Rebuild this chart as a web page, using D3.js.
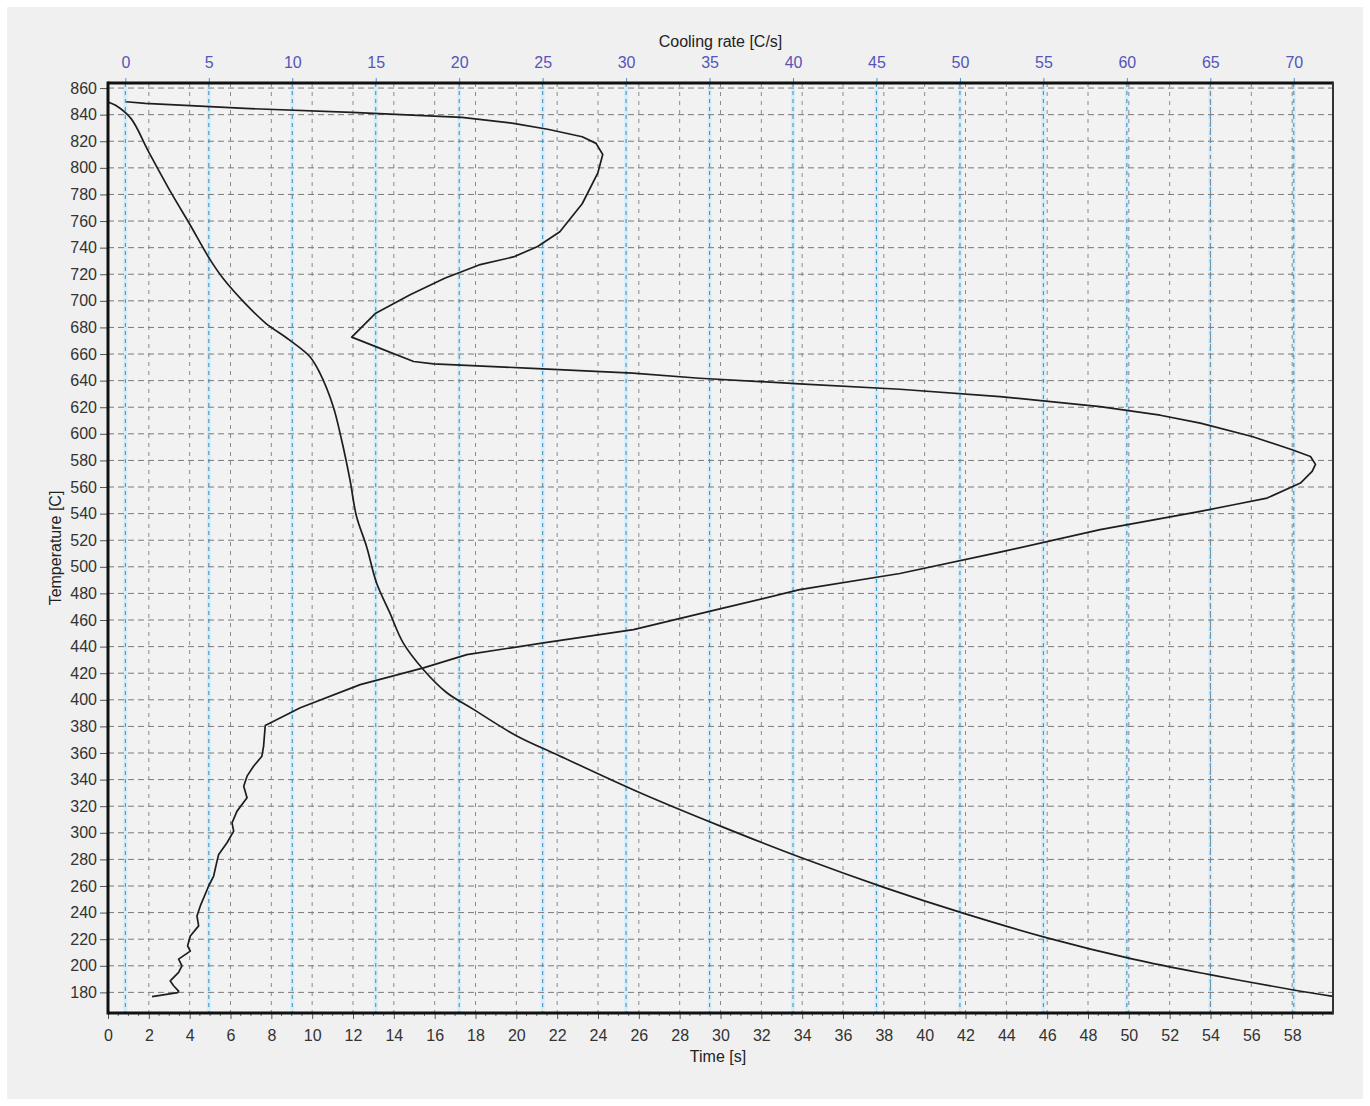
<!DOCTYPE html>
<html>
<head>
<meta charset="utf-8">
<script src="https://cdn.jsdelivr.net/npm/d3@7"></script>
<style>
  html, body { margin: 0; padding: 0; background: #ffffff; }
  svg { display: block; }
  text { font-family: "Liberation Sans", Arial, sans-serif; }
</style>
</head>
<body>
<svg id="chart" width="1370" height="1106"></svg>
<script>
// ---- data ----
// Temperature vs time curve (bottom axis: Time [s])
const timeS = [0, 0.37, 1.13, 1.96, 3.14, 3.99, 5.0, 5.68, 6.69, 7.7, 8.88, 9.89, 10.38, 11.03, 11.44, 11.85, 12.17, 12.66, 13.15, 13.8, 14.45, 15.43, 16.58, 17.88, 20.0, 22.1, 26, 30, 34, 38, 42, 46, 50.2, 53.9, 58, 60];
const timeTemp = [849.5, 847, 837, 813, 780, 758, 731, 716, 698.5, 683.5, 670.7, 658, 645.6, 620.6, 595.5, 565.5, 538, 515.5, 488, 465.5, 443, 423, 405.5, 393, 373, 358, 330.5, 305, 281, 259, 239, 221, 205, 193.5, 182, 177];

// Temperature vs cooling rate curve (top axis: Cooling rate [C/s])
const rateCs = [0.05, 1.19, 7.16, 13.56, 20.16, 23.25, 25.3, 27.37, 28.2, 28.6, 28.3, 27.37, 26.03, 24.7, 23.25, 21.19, 19.13, 17.06, 15.0, 13.56, 15.0, 17.27, 18.46, 24.05, 30.4, 34.4, 40.4, 46.4, 52.4, 58.4, 62, 64.4, 67.5, 69.9, 71, 71.3, 71.1, 70.4, 68.4, 66.4, 64.4, 58.4, 52.4, 46.4, 40.4, 35.43, 30.44, 25.05, 20.46, 17.86, 14.07, 10.48, 8.38, 8.28, 8.18, 7.68, 7.29, 7.09, 7.29, 6.69, 6.39, 6.49, 6.09, 5.59, 5.49, 5.29, 4.99, 4.49, 4.29, 4.39, 3.89, 3.73, 3.89, 3.19, 3.39, 3.19, 2.69, 2.89, 3.19, 3.13, 1.6];
const rateTemp = [849.7, 848.5, 844.7, 841.7, 838, 833.5, 829, 823.4, 818.4, 810, 796, 773, 752, 740.8, 733, 727, 717, 704.5, 690.7, 672.7, 665.6, 654.4, 652.6, 649.4, 645.6, 641.8, 637.6, 633.5, 628, 620.5, 614, 608, 598, 588, 583, 577, 571.7, 563, 551.7, 546.7, 541.7, 528, 511, 495, 482.8, 467.8, 452.8, 442.8, 434, 424, 411.4, 394, 380.6, 365, 357.6, 350, 342.6, 335, 326.3, 316.3, 307.5, 301.3, 292.5, 283.7, 278.7, 267.5, 260, 245, 237.4, 230, 222.4, 215, 211, 205, 200, 195, 188.6, 185, 181, 179.8, 176.8];

// tick labels
const timeTicks = [0, 2, 4, 6, 8, 10, 12, 14, 16, 18, 20, 22, 24, 26, 28, 30, 32, 34, 36, 38, 40, 42, 44, 46, 48, 50, 52, 54, 56, 58];
const rateTicks = [0, 5, 10, 15, 20, 25, 30, 35, 40, 45, 50, 55, 60, 65, 70];
const tempTicks = [180, 200, 220, 240, 260, 280, 300, 320, 340, 360, 380, 400, 420, 440, 460, 480, 500, 520, 540, 560, 580, 600, 620, 640, 660, 680, 700, 720, 740, 760, 780, 800, 820, 840, 860];

// ---- layout ----
const L = 108, R = 1333, T = 83, B = 1013;
const svg = d3.select("#chart");

svg.append("rect").attr("x", 7).attr("y", 7).attr("width", 1356).attr("height", 1092).attr("fill", "#f0f0f0");

const x = d3.scaleLinear().domain([0, 60]).range([L, R]);
const xr = d3.scaleLinear().domain([-1.04, 72.35]).range([L, R]);
const y = d3.scaleLinear().domain([164.5, 863.8]).range([B, T]);

svg.append("rect").attr("x", L).attr("y", T).attr("width", R - L).attr("height", B - T).attr("fill", "#f2f2f2");

svg.append("defs").append("clipPath").attr("id", "plotclip")
  .append("rect").attr("x", L).attr("y", T).attr("width", R - L).attr("height", B - T);

const grid = svg.append("g").attr("clip-path", "url(#plotclip)");

// cooling-rate grid: pale blue band + blue dashes
grid.append("g").selectAll("line").data(rateTicks).join("line")
  .attr("x1", d => xr(d)).attr("x2", d => xr(d)).attr("y1", T).attr("y2", B)
  .attr("stroke", "#d6ecf7").attr("stroke-width", 4);
grid.append("g").selectAll("line").data(rateTicks).join("line")
  .attr("x1", d => xr(d)).attr("x2", d => xr(d)).attr("y1", T).attr("y2", B)
  .attr("stroke", "#4595c4").attr("stroke-width", 1.1).attr("stroke-dasharray", "4,4");

// time grid (vertical gray dashed)
grid.append("g").selectAll("line").data(timeTicks.filter(d => d > 0)).join("line")
  .attr("x1", d => x(d)).attr("x2", d => x(d)).attr("y1", T).attr("y2", B)
  .attr("stroke", "#8a8a8a").attr("stroke-width", 1).attr("stroke-dasharray", "4,5");

// temperature grid (horizontal gray dashed)
grid.append("g").selectAll("line").data(tempTicks).join("line")
  .attr("x1", L).attr("x2", R).attr("y1", d => y(d)).attr("y2", d => y(d))
  .attr("stroke", "#7a7a7a").attr("stroke-width", 1).attr("stroke-dasharray", "6,4");

// ---- curves ----
const curves = svg.append("g").attr("clip-path", "url(#plotclip)");
const timeData = timeS.map((t, i) => [t, timeTemp[i]]);
const rateData = rateCs.map((r, i) => [r, rateTemp[i]]);

curves.append("path").datum(timeData)
  .attr("fill", "none").attr("stroke", "#1e1e1e").attr("stroke-width", 1.7)
  .attr("d", d3.line().x(d => x(d[0])).y(d => y(d[1])).curve(d3.curveCatmullRom.alpha(0.5)));

curves.append("path").datum(rateData)
  .attr("fill", "none").attr("stroke", "#1e1e1e").attr("stroke-width", 1.7)
  .attr("stroke-linejoin", "round")
  .attr("d", d3.line().x(d => xr(d[0])).y(d => y(d[1])));

// ---- axes ----
const fontSize = "16px";

const gLeft = svg.append("g").attr("transform", `translate(${L},0)`)
  .call(d3.axisLeft(y).tickValues(tempTicks).tickSize(8).tickPadding(3).tickFormat(d3.format("d")));
gLeft.select(".domain").remove();
gLeft.selectAll("text").attr("fill", "#333").style("font-size", fontSize);
gLeft.selectAll(".tick line").attr("stroke", "#555");

const gBottom = svg.append("g").attr("transform", `translate(0,${B})`)
  .call(d3.axisBottom(x).tickValues(timeTicks).tickSize(6).tickPadding(11).tickFormat(d3.format("d")));
gBottom.select(".domain").remove();
gBottom.selectAll("text").attr("fill", "#333").style("font-size", fontSize);
gBottom.selectAll(".tick line").attr("stroke", "#555");

// minor ticks on time axis
const minor = d3.range(0.5, 60, 0.5).filter(d => Math.abs(d % 2) > 1e-6);
svg.append("g").selectAll("line").data(minor).join("line")
  .attr("x1", d => x(d)).attr("x2", d => x(d)).attr("y1", B).attr("y2", B + 3)
  .attr("stroke", "#666").attr("stroke-width", 1);

const gTop = svg.append("g").attr("transform", `translate(0,${T})`)
  .call(d3.axisTop(xr).tickValues(rateTicks).tickSize(5).tickPadding(10).tickFormat(d3.format("d")));
gTop.select(".domain").remove();
gTop.selectAll("text").attr("fill", "#5555b8").style("font-size", fontSize);
gTop.selectAll(".tick line").attr("stroke", "#4595c4");

// plot frame
svg.append("line").attr("x1", L).attr("x2", R).attr("y1", T).attr("y2", T).attr("stroke", "#111").attr("stroke-width", 3);
svg.append("line").attr("x1", L).attr("x2", R).attr("y1", B).attr("y2", B).attr("stroke", "#111").attr("stroke-width", 3);
svg.append("line").attr("x1", L).attr("x2", L).attr("y1", T - 1.5).attr("y2", B + 1.5).attr("stroke", "#111").attr("stroke-width", 3);
svg.append("line").attr("x1", R).attr("x2", R).attr("y1", T - 1.5).attr("y2", B + 1.5).attr("stroke", "#333").attr("stroke-width", 2);

// axis titles
svg.append("text").attr("x", (L + R) / 2).attr("y", 47).attr("text-anchor", "middle")
  .attr("fill", "#222").style("font-size", fontSize).text("Cooling rate [C/s]");
svg.append("text").attr("x", 718).attr("y", 1062).attr("text-anchor", "middle")
  .attr("fill", "#222").style("font-size", fontSize).text("Time [s]");
svg.append("text").attr("transform", `translate(61,548) rotate(-90)`).attr("text-anchor", "middle")
  .attr("fill", "#222").style("font-size", fontSize).text("Temperature [C]");
</script>
</body>
</html>
